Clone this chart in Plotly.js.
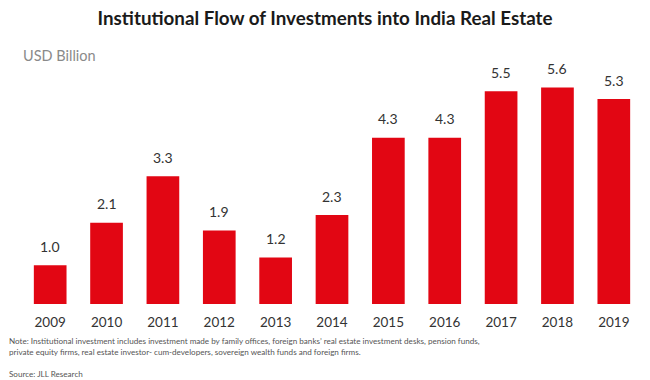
<!DOCTYPE html>
<html><head><meta charset="utf-8">
<script src="https://cdn.plot.ly/plotly-3.0.1.min.js"></script>
<style>body{margin:0;background:#fff}#c{width:650px;height:380px}</style>
</head><body><div id="c"></div>
<script>
const years = ["2009","2010","2011","2012","2013","2014","2015","2016","2017","2018","2019"];
const values = [1.0, 2.1, 3.3, 1.9, 1.2, 2.3, 4.3, 4.3, 5.5, 5.6, 5.3];
const labels = values.map(v => v.toFixed(1));

const trace = {
  type: 'bar', x: years, y: values,
  marker: {color: '#E20613'},
  width: 0.58,
  hoverinfo: 'none'
};
const valueAnnotations = years.map((yr, i) => ({
  x: i, y: values[i], xref: 'x', yref: 'y', text: labels[i],
  showarrow: false, yshift: 19, yanchor: 'middle',
  font: {family: 'Lato, sans-serif', size: 14, color: '#333'}
}));
const layout = {
  width: 650, height: 380,
  margin: {l: 22, r: 8, t: 70, b: 76},
  paper_bgcolor: '#fff', plot_bgcolor: '#fff',
  showlegend: false,
  title: {text: '<b>Institutional Flow of Investments into India Real Estate</b>',
    font: {family: 'Lato, sans-serif', size: 18.8, color: '#1a1a1a'},
    x: 0.5, xanchor: 'center', y: 0.952, yanchor: 'middle'},
  xaxis: {type: 'category', range: [-0.5, years.length - 0.5], showgrid: false, zeroline: false, showline: false, ticks: '',
    ticklabelstandoff: 8,
    tickfont: {family: 'Lato, sans-serif', size: 13.5, color: '#333'}},
  yaxis: {range: [0, 6.05], visible: false, showgrid: false, zeroline: false},
  annotations: valueAnnotations.concat([
    {text: 'USD Billion', xref: 'paper', yref: 'paper', x: -0.001, y: 1.064, xanchor: 'left', yanchor: 'middle',
      showarrow: false, font: {family: 'Lato, sans-serif', size: 14.5, color: '#8a8a8a'}},
    {text: 'Note: Institutional investment includes investment made by family offices, foreign banks\u2019 real estate investment desks, pension funds,<br>private equity firms, real estate investor- cum-developers, sovereign wealth funds and foreign firms.',
      xref: 'paper', yref: 'paper', x: -0.024, y: -0.13, xanchor: 'left', yanchor: 'top', align: 'left',
      showarrow: false, font: {family: 'Lato, sans-serif', size: 8.1, color: '#555'}},
    {text: 'Source: JLL Research', xref: 'paper', yref: 'paper', x: -0.024, y: -0.27, xanchor: 'left', yanchor: 'top',
      showarrow: false, font: {family: 'Lato, sans-serif', size: 8.1, color: '#555'}}
  ])
};
Plotly.newPlot('c', [trace], layout, {displayModeBar: false, staticPlot: true});
</script></body></html>
